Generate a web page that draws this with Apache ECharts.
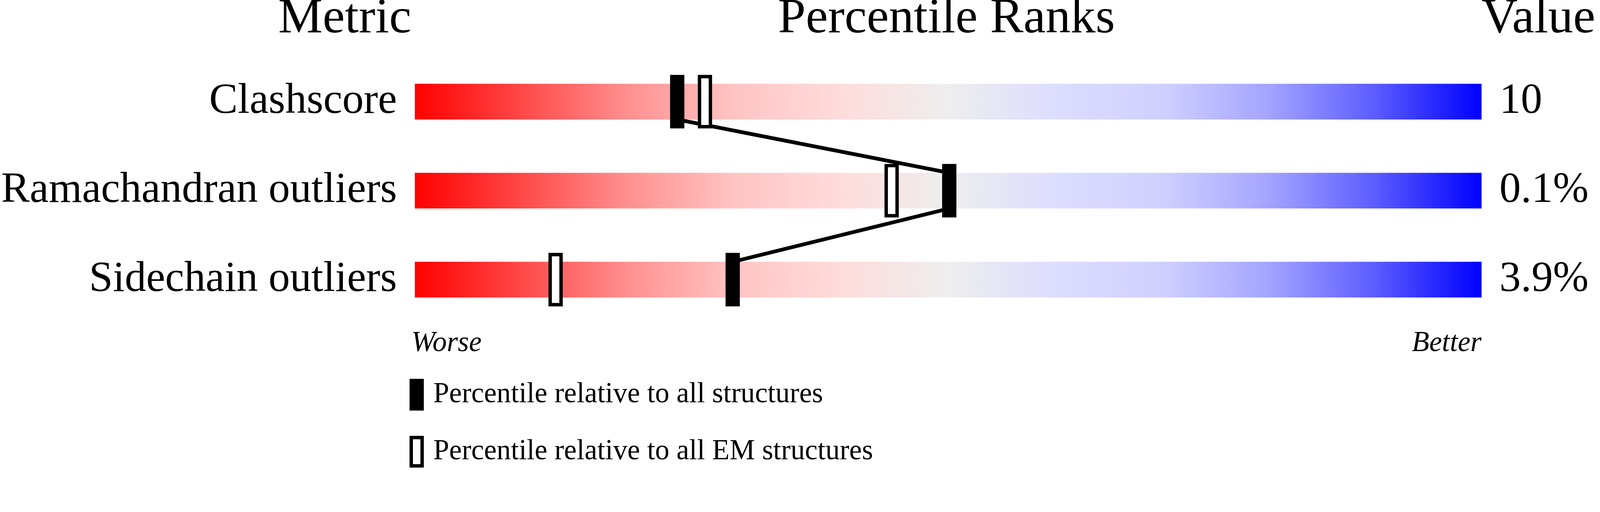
<!DOCTYPE html>
<html lang="en">

<head>
    <meta charset="utf-8">
    <title>Percentile Ranks</title>
    <script src="https://cdn.jsdelivr.net/npm/echarts@6.0.0/dist/echarts.min.js"></script>
    <style>
        html, body { margin: 0; padding: 0; background: #fff; overflow: hidden; }
        #chart { width: 100vw; height: 100vh; }
    </style>
</head>

<body>
<div id="chart"></div>
<script>
    // data
    var metrics = ['Clashscore', 'Ramachandran outliers', 'Sidechain outliers'];
    var valueLabels = ['10', '0.1%', '3.9%'];
    var pctAll = [24.6, 50.1, 29.8];   // percentile relative to all structures
    var pctEM = [27.2, 44.7, 13.2];    // percentile relative to all EM structures
    var fullScale = [100, 100, 100];

    var nameAll = 'Percentile relative to all structures';
    var nameEM = 'Percentile relative to all EM structures';
    var serif = 'Liberation Serif, Times New Roman, serif';

    var chart = echarts.init(document.getElementById('chart'));

    // layout was measured on a 4485 px wide picture, scale to the real viewport
    var s = chart.getWidth() / 4485;
    function px(v) { return v * s; }

    // pairs for the line joining the black markers
    var links = [];
    for (var i = 0; i < pctAll.length - 1; i++) {
        links.push([pctAll[i], i, pctAll[i + 1], i + 1]);
    }

    var option = {
        animation: false,
        backgroundColor: '#fff',
        grid: {left: px(1153), right: px(332), top: px(160.25), bottom: chart.getHeight() - px(908.75)},
        xAxis: {type: 'value', min: 0, max: 100, show: false},
        yAxis: [
            {
                type: 'category', inverse: true, data: metrics,
                axisLine: {show: false}, axisTick: {show: false}, splitLine: {show: false},
                axisLabel: {fontFamily: serif, fontSize: px(120), color: '#000', margin: px(50), padding: [px(32), 0, 0, 0]}
            },
            {
                type: 'category', inverse: true, position: 'right', data: valueLabels,
                axisLine: {show: false}, axisTick: {show: false}, splitLine: {show: false},
                axisLabel: {fontFamily: serif, fontSize: px(120), color: '#000', margin: px(50), padding: [px(32), 0, 0, 0]}
            }
        ],
        legend: {
            orient: 'vertical', left: px(1148), top: px(1062), padding: 0,
            itemWidth: px(40), itemHeight: px(89), itemGap: px(71),
            selectedMode: false,
            textStyle: {fontFamily: serif, fontSize: px(80), color: '#000', padding: [px(32), 0, 0, px(21)]},
            data: [
                {name: nameAll, icon: 'rect'},
                {name: nameEM, icon: 'path://M0,0 h40 v89 h-40 z M9.5,9.5 v70 h21 v-70 z'}
            ]
        },
        graphic: [
            {type: 'text', x: px(1153), y: px(54), style: {text: 'Metric', font: px(140) + 'px ' + serif, fill: '#000', align: 'right', verticalAlign: 'middle'}},
            {type: 'text', x: px(2653), y: px(54), style: {text: 'Percentile Ranks', font: px(140) + 'px ' + serif, fill: '#000', align: 'center', verticalAlign: 'middle'}},
            {type: 'text', x: px(4153), y: px(54), style: {text: 'Value', font: px(140) + 'px ' + serif, fill: '#000', align: 'left', verticalAlign: 'middle'}},
            {type: 'text', x: px(1153), y: px(963), style: {text: 'Worse', font: 'italic ' + px(80) + 'px ' + serif, fill: '#000', align: 'left', verticalAlign: 'middle'}},
            {type: 'text', x: px(4153), y: px(963), style: {text: 'Better', font: 'italic ' + px(80) + 'px ' + serif, fill: '#000', align: 'right', verticalAlign: 'middle'}}
        ],
        series: [
            {
                // the red-grey-blue tracks
                name: 'track', type: 'bar', data: fullScale, barWidth: px(100), silent: true, z: 1,
                itemStyle: {
                    color: new echarts.graphic.LinearGradient(0, 0, 1, 0, [
                        {offset: 0, color: '#ff0000'},
                        {offset: 0.1, color: '#ff4848'},
                        {offset: 0.2, color: '#ff9090'},
                        {offset: 0.3, color: '#ffc4c4'},
                        {offset: 0.4, color: '#ffdcdc'},
                        {offset: 0.5, color: '#eeeeee'},
                        {offset: 0.6, color: '#ddddff'},
                        {offset: 0.7, color: '#d0d0ff'},
                        {offset: 0.8, color: '#a4a4ff'},
                        {offset: 0.9, color: '#5c5cff'},
                        {offset: 1, color: '#0000ff'}
                    ])
                }
            },
            {
                name: 'link', type: 'custom', data: links, silent: true, z: 3,
                encode: {x: [0, 2], y: [1, 3]},
                renderItem: function (params, api) {
                    var p1 = api.coord([api.value(0), api.value(1)]);
                    var p2 = api.coord([api.value(2), api.value(3)]);
                    return {
                        type: 'line',
                        shape: {x1: p1[0], y1: p1[1] + px(50), x2: p2[0], y2: p2[1] - px(50)},
                        style: {stroke: '#000', lineWidth: px(10.5)}
                    };
                }
            },
            {
                name: nameEM, type: 'custom', z: 4, silent: true,
                itemStyle: {color: '#000'},
                data: pctEM.map(function (v, k) { return [v, k]; }),
                encode: {x: 0, y: 1},
                renderItem: function (params, api) {
                    var c = api.coord([api.value(0), api.value(1)]);
                    return {
                        type: 'rect',
                        shape: {x: c[0] - px(15.25), y: c[1] - px(70.25), width: px(30.5), height: px(140.5)},
                        style: {fill: '#fff', stroke: '#000', lineWidth: px(9.5)}
                    };
                }
            },
            {
                name: nameAll, type: 'custom', z: 5, silent: true,
                itemStyle: {color: '#000'},
                data: pctAll.map(function (v, k) { return [v, k]; }),
                encode: {x: 0, y: 1},
                renderItem: function (params, api) {
                    var c = api.coord([api.value(0), api.value(1)]);
                    return {
                        type: 'rect',
                        shape: {x: c[0] - px(20), y: c[1] - px(75), width: px(40), height: px(150)},
                        style: {fill: '#000'}
                    };
                }
            }
        ]
    };
    chart.setOption(option);
</script>
</body>

</html>
